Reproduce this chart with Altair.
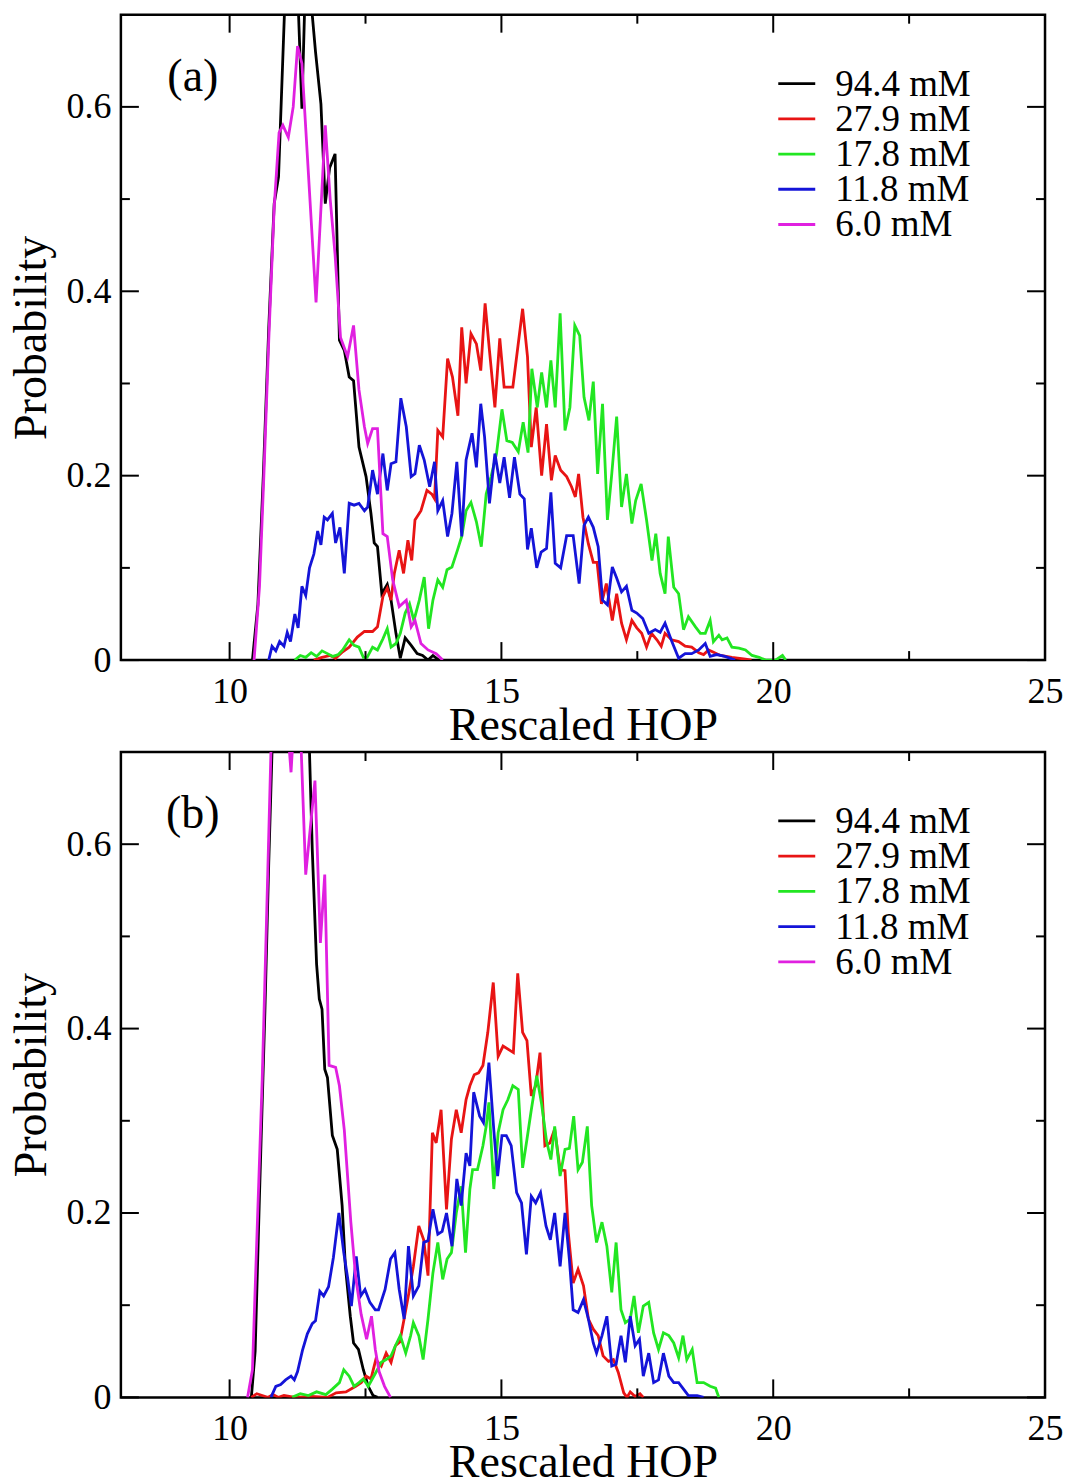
import altair as alt
import pandas as pd

LABELS = ["94.4 mM", "27.9 mM", "17.8 mM", "11.8 mM", "6.0 mM"]
COLORS = ["#000000", "#e81414", "#22e622", "#1414d8", "#e020e0"]
X_MAJOR = [10, 15, 20, 25]
X_MINOR = [12.5, 17.5, 22.5]
Y_MAJOR = [0, 0.2, 0.4, 0.6]
Y_MINOR = [0.1, 0.3, 0.5]
PANEL_TAGS = ["(a)", "(b)"]

# ---------------- panel (a) ----------------
A_BLACK = [(10.42, 0.0), (10.52, 0.06), (10.62, 0.2), (10.72, 0.36), (10.82, 0.495), (10.90, 0.524),
           (11.02, 0.72), (11.12, 0.82), (11.22, 0.78), (11.33, 0.598), (11.40, 0.75), (11.49, 0.72),
           (11.58, 0.66), (11.68, 0.603), (11.76, 0.495), (11.84, 0.534), (11.94, 0.549), (12.02, 0.347),
           (12.11, 0.336), (12.20, 0.307), (12.28, 0.303), (12.38, 0.231), (12.51, 0.199), (12.60, 0.159),
           (12.66, 0.127), (12.72, 0.123), (12.80, 0.072), (12.90, 0.082), (12.97, 0.065), (13.06, 0.029),
           (13.14, 0.002), (13.23, 0.024), (13.34, 0.016), (13.45, 0.007), (13.55, 0.005), (13.65, 0.0),
           (13.74, 0.005), (13.85, 0.0)]
A_RED = [(11.55, 0.0), (11.70, 0.003), (11.85, 0.005), (11.95, 0.002), (12.08, 0.009), (12.20, 0.014),
         (12.35, 0.025), (12.48, 0.031), (12.63, 0.031), (12.72, 0.036), (12.82, 0.069), (12.90, 0.078),
         (12.97, 0.065), (13.03, 0.094), (13.12, 0.119), (13.20, 0.094), (13.28, 0.13), (13.35, 0.108),
         (13.41, 0.152), (13.52, 0.162), (13.63, 0.184), (13.72, 0.18), (13.77, 0.175), (13.83, 0.249),
         (13.92, 0.242), (14.01, 0.327), (14.10, 0.307), (14.20, 0.265), (14.27, 0.361), (14.35, 0.3),
         (14.44, 0.354), (14.54, 0.343), (14.62, 0.314), (14.70, 0.387), (14.78, 0.336), (14.88, 0.274),
         (14.97, 0.349), (15.05, 0.296), (15.21, 0.296), (15.39, 0.381), (15.48, 0.329), (15.55, 0.231),
         (15.64, 0.274), (15.74, 0.2), (15.83, 0.256), (15.92, 0.195), (15.99, 0.222), (16.09, 0.206),
         (16.20, 0.199), (16.29, 0.188), (16.36, 0.177), (16.42, 0.202), (16.50, 0.155), (16.60, 0.126),
         (16.69, 0.106), (16.76, 0.106), (16.84, 0.061), (16.93, 0.083), (17.04, 0.043), (17.12, 0.072),
         (17.21, 0.04), (17.30, 0.022), (17.40, 0.043), (17.49, 0.035), (17.58, 0.029), (17.67, 0.014),
         (17.76, 0.029), (17.86, 0.022), (17.94, 0.015), (18.01, 0.029), (18.13, 0.022), (18.26, 0.02),
         (18.38, 0.015), (18.50, 0.014), (18.63, 0.008), (18.72, 0.006), (18.81, 0.011), (19.03, 0.005),
         (19.24, 0.003), (19.49, 0.001), (19.60, 0.0)]
A_GREEN = [(11.20, 0.0), (11.30, 0.005), (11.40, 0.003), (11.50, 0.008), (11.60, 0.004), (11.70, 0.01),
           (11.80, 0.007), (11.90, 0.004), (12.00, 0.006), (12.08, 0.011), (12.20, 0.022), (12.29, 0.016),
           (12.38, 0.014), (12.46, 0.003), (12.53, 0.003), (12.63, 0.014), (12.72, 0.011), (12.82, 0.023),
           (12.90, 0.034), (12.97, 0.014), (13.06, 0.018), (13.14, 0.029), (13.23, 0.051), (13.31, 0.061),
           (13.39, 0.043), (13.49, 0.065), (13.58, 0.09), (13.66, 0.034), (13.74, 0.065), (13.83, 0.087),
           (13.92, 0.079), (14.00, 0.098), (14.09, 0.101), (14.19, 0.119), (14.27, 0.134), (14.35, 0.162),
           (14.44, 0.171), (14.54, 0.15), (14.63, 0.123), (14.72, 0.18), (14.81, 0.199), (14.91, 0.224),
           (15.01, 0.272), (15.10, 0.238), (15.20, 0.236), (15.31, 0.226), (15.40, 0.258), (15.49, 0.225),
           (15.56, 0.316), (15.66, 0.274), (15.74, 0.312), (15.83, 0.274), (15.91, 0.325), (15.99, 0.274),
           (16.08, 0.376), (16.17, 0.249), (16.26, 0.274), (16.35, 0.363), (16.44, 0.352), (16.52, 0.285),
           (16.61, 0.26), (16.69, 0.302), (16.77, 0.202), (16.86, 0.278), (16.95, 0.152), (17.03, 0.202),
           (17.12, 0.264), (17.21, 0.166), (17.30, 0.202), (17.40, 0.148), (17.47, 0.173), (17.57, 0.191),
           (17.67, 0.152), (17.77, 0.108), (17.84, 0.137), (17.92, 0.094), (18.01, 0.072), (18.07, 0.134),
           (18.17, 0.079), (18.26, 0.072), (18.35, 0.033), (18.44, 0.047), (18.57, 0.036), (18.66, 0.029),
           (18.75, 0.029), (18.84, 0.043), (18.90, 0.02), (19.00, 0.027), (19.06, 0.022), (19.15, 0.024),
           (19.24, 0.014), (19.37, 0.013), (19.49, 0.011), (19.61, 0.005), (19.74, 0.003), (19.86, 0.0),
           (20.04, 0.0), (20.17, 0.005), (20.23, 0.0)]
A_BLUE = [(10.72, 0.0), (10.78, 0.015), (10.85, 0.01), (10.92, 0.02), (11.00, 0.015), (11.06, 0.03),
          (11.12, 0.02), (11.20, 0.05), (11.26, 0.035), (11.33, 0.08), (11.40, 0.07), (11.47, 0.1),
          (11.55, 0.115), (11.62, 0.14), (11.68, 0.125), (11.74, 0.155), (11.80, 0.152), (11.89, 0.159),
          (11.95, 0.127), (12.03, 0.144), (12.11, 0.094), (12.20, 0.17), (12.29, 0.168), (12.38, 0.17),
          (12.48, 0.162), (12.54, 0.166), (12.63, 0.206), (12.72, 0.18), (12.82, 0.224), (12.90, 0.184),
          (12.97, 0.213), (13.06, 0.215), (13.15, 0.284), (13.25, 0.253), (13.34, 0.199), (13.41, 0.202),
          (13.49, 0.233), (13.58, 0.217), (13.68, 0.188), (13.77, 0.215), (13.83, 0.162), (13.92, 0.173),
          (14.01, 0.134), (14.09, 0.159), (14.18, 0.215), (14.27, 0.134), (14.35, 0.217), (14.46, 0.246),
          (14.54, 0.209), (14.62, 0.278), (14.69, 0.242), (14.78, 0.17), (14.88, 0.224), (14.97, 0.192),
          (15.05, 0.22), (15.15, 0.176), (15.24, 0.22), (15.34, 0.18), (15.42, 0.175), (15.48, 0.12),
          (15.55, 0.143), (15.65, 0.1), (15.73, 0.117), (15.83, 0.121), (15.91, 0.182), (15.99, 0.105),
          (16.09, 0.1), (16.20, 0.135), (16.32, 0.135), (16.43, 0.083), (16.52, 0.146), (16.60, 0.155),
          (16.69, 0.144), (16.78, 0.123), (16.86, 0.065), (16.95, 0.06), (17.04, 0.101), (17.12, 0.089),
          (17.21, 0.074), (17.30, 0.08), (17.40, 0.054), (17.49, 0.051), (17.60, 0.045), (17.71, 0.029),
          (17.83, 0.033), (17.92, 0.03), (18.01, 0.04), (18.13, 0.021), (18.26, 0.002), (18.38, 0.007),
          (18.50, 0.007), (18.63, 0.011), (18.75, 0.018), (18.84, 0.004), (18.96, 0.006), (19.11, 0.004),
          (19.30, 0.0)]
A_MAGENTA = [(10.45, 0.0), (10.55, 0.08), (10.63, 0.2), (10.72, 0.347), (10.82, 0.491), (10.91, 0.572),
             (10.98, 0.58), (11.08, 0.567), (11.17, 0.60), (11.25, 0.666), (11.33, 0.647), (11.59, 0.388),
             (11.76, 0.58), (11.85, 0.50), (11.94, 0.44), (12.04, 0.35), (12.17, 0.329), (12.28, 0.363),
             (12.38, 0.293), (12.48, 0.253), (12.54, 0.235), (12.63, 0.251), (12.72, 0.251), (12.82, 0.137),
             (12.90, 0.134), (13.00, 0.087), (13.12, 0.058), (13.25, 0.065), (13.34, 0.036), (13.41, 0.043),
             (13.52, 0.018), (13.65, 0.011), (13.80, 0.007), (13.92, 0.0)]

# ---------------- panel (b) ----------------
B_BLACK = [(10.40, 0.0), (10.47, 0.05), (10.55, 0.22), (10.65, 0.42), (10.72, 0.58), (10.80, 0.74),
           (10.90, 0.9), (11.10, 0.95), (11.30, 0.85), (11.45, 0.74), (11.52, 0.595), (11.60, 0.47),
           (11.65, 0.432), (11.70, 0.421), (11.75, 0.356), (11.80, 0.347), (11.89, 0.284), (11.98, 0.269),
           (12.07, 0.208), (12.13, 0.142), (12.22, 0.088), (12.28, 0.059), (12.37, 0.052), (12.46, 0.03),
           (12.55, 0.012), (12.64, 0.002), (12.72, 0.0)]
B_RED = [(10.40, 0.0), (10.50, 0.004), (10.60, 0.002), (10.70, 0.0), (10.80, 0.003), (10.90, 0.0),
         (11.00, 0.002), (11.20, 0.0), (11.50, 0.001), (11.80, 0.0), (11.96, 0.005), (12.14, 0.006),
         (12.32, 0.012), (12.42, 0.016), (12.51, 0.023), (12.60, 0.02), (12.69, 0.041), (12.79, 0.034),
         (12.88, 0.048), (12.97, 0.038), (13.05, 0.056), (13.13, 0.06), (13.21, 0.085), (13.30, 0.114),
         (13.38, 0.142), (13.48, 0.186), (13.57, 0.171), (13.65, 0.132), (13.73, 0.287), (13.80, 0.276),
         (13.89, 0.312), (13.99, 0.204), (14.08, 0.28), (14.17, 0.312), (14.26, 0.287), (14.35, 0.323),
         (14.42, 0.338), (14.50, 0.35), (14.58, 0.352), (14.66, 0.36), (14.75, 0.396), (14.85, 0.45),
         (14.94, 0.37), (15.03, 0.381), (15.22, 0.374), (15.30, 0.46), (15.39, 0.396), (15.47, 0.387),
         (15.55, 0.327), (15.63, 0.338), (15.71, 0.374), (15.80, 0.273), (15.89, 0.276), (15.98, 0.291),
         (16.08, 0.247), (16.17, 0.246), (16.23, 0.179), (16.32, 0.124), (16.41, 0.139), (16.51, 0.121),
         (16.60, 0.085), (16.69, 0.074), (16.78, 0.067), (16.87, 0.045), (16.97, 0.039), (17.06, 0.041),
         (17.15, 0.027), (17.25, 0.005), (17.31, 0.0), (17.37, 0.006), (17.46, 0.001), (17.55, 0.004),
         (17.61, 0.0)]
B_GREEN = [(11.15, 0.0), (11.30, 0.004), (11.45, 0.002), (11.60, 0.006), (11.77, 0.003), (11.89, 0.009),
           (12.02, 0.016), (12.10, 0.03), (12.20, 0.023), (12.29, 0.012), (12.38, 0.016), (12.46, 0.02),
           (12.55, 0.012), (12.69, 0.027), (12.79, 0.038), (12.88, 0.041), (12.97, 0.045), (13.05, 0.056),
           (13.14, 0.067), (13.24, 0.048), (13.33, 0.067), (13.38, 0.081), (13.48, 0.067), (13.56, 0.041),
           (13.65, 0.085), (13.74, 0.135), (13.83, 0.168), (13.92, 0.128), (14.00, 0.15), (14.08, 0.157),
           (14.17, 0.2), (14.26, 0.229), (14.34, 0.157), (14.42, 0.226), (14.47, 0.247), (14.56, 0.247),
           (14.66, 0.273), (14.72, 0.294), (14.77, 0.32), (14.86, 0.226), (14.94, 0.287), (15.03, 0.312),
           (15.12, 0.323), (15.21, 0.338), (15.31, 0.334), (15.39, 0.249), (15.47, 0.28), (15.55, 0.312),
           (15.65, 0.349), (15.74, 0.318), (15.83, 0.278), (15.91, 0.258), (15.98, 0.294), (16.08, 0.24),
           (16.17, 0.269), (16.25, 0.27), (16.33, 0.305), (16.41, 0.247), (16.49, 0.255), (16.58, 0.294),
           (16.66, 0.208), (16.75, 0.168), (16.85, 0.19), (16.94, 0.164), (17.03, 0.114), (17.11, 0.168),
           (17.20, 0.095), (17.28, 0.081), (17.37, 0.085), (17.44, 0.11), (17.52, 0.07), (17.61, 0.099),
           (17.71, 0.103), (17.80, 0.07), (17.89, 0.052), (17.98, 0.07), (18.08, 0.067), (18.17, 0.059),
           (18.26, 0.043), (18.34, 0.067), (18.41, 0.041), (18.51, 0.052), (18.60, 0.016), (18.72, 0.016),
           (18.84, 0.012), (18.94, 0.01), (19.00, 0.0)]
B_BLUE = [(10.76, 0.0), (10.85, 0.012), (10.94, 0.014), (11.03, 0.019), (11.13, 0.023), (11.19, 0.019),
          (11.25, 0.028), (11.34, 0.051), (11.43, 0.069), (11.52, 0.08), (11.58, 0.083), (11.66, 0.115),
          (11.73, 0.11), (11.82, 0.12), (11.91, 0.152), (12.01, 0.2), (12.10, 0.157), (12.17, 0.13),
          (12.24, 0.099), (12.33, 0.153), (12.41, 0.11), (12.49, 0.117), (12.58, 0.103), (12.68, 0.095),
          (12.74, 0.095), (12.86, 0.117), (12.96, 0.15), (13.04, 0.157), (13.12, 0.117), (13.21, 0.085),
          (13.29, 0.164), (13.38, 0.11), (13.48, 0.121), (13.57, 0.168), (13.65, 0.17), (13.74, 0.204),
          (13.83, 0.177), (13.91, 0.18), (13.99, 0.2), (14.09, 0.164), (14.18, 0.237), (14.26, 0.208),
          (14.35, 0.265), (14.42, 0.251), (14.49, 0.331), (14.60, 0.305), (14.67, 0.298), (14.77, 0.363),
          (14.86, 0.29), (14.93, 0.24), (15.01, 0.284), (15.09, 0.284), (15.18, 0.273), (15.28, 0.222),
          (15.37, 0.211), (15.46, 0.155), (15.55, 0.218), (15.63, 0.211), (15.72, 0.222), (15.82, 0.186),
          (15.90, 0.171), (15.98, 0.2), (16.08, 0.142), (16.17, 0.2), (16.25, 0.15), (16.32, 0.095),
          (16.41, 0.092), (16.51, 0.106), (16.60, 0.085), (16.69, 0.059), (16.75, 0.048), (16.85, 0.067),
          (16.94, 0.088), (17.03, 0.034), (17.11, 0.036), (17.20, 0.067), (17.28, 0.038), (17.37, 0.088),
          (17.46, 0.056), (17.54, 0.063), (17.61, 0.023), (17.71, 0.048), (17.80, 0.016), (17.89, 0.019),
          (17.98, 0.048), (18.08, 0.023), (18.17, 0.016), (18.26, 0.016), (18.35, 0.009), (18.44, 0.002),
          (18.60, 0.002), (18.72, 0.0)]
B_MAGENTA = [(10.33, 0.0), (10.42, 0.03), (10.50, 0.17), (10.60, 0.345), (10.68, 0.52), (10.76, 0.70),
             (10.85, 0.82), (10.95, 0.8), (11.05, 0.74), (11.13, 0.678), (11.20, 0.75), (11.30, 0.73),
             (11.40, 0.567), (11.57, 0.669), (11.67, 0.493), (11.75, 0.567), (11.83, 0.36), (11.95, 0.358),
             (12.02, 0.338), (12.11, 0.29), (12.17, 0.24), (12.23, 0.19), (12.32, 0.13), (12.42, 0.09),
             (12.52, 0.063), (12.61, 0.088), (12.68, 0.052), (12.75, 0.028), (12.85, 0.012), (12.96, 0.0)]

PANELS = [[A_BLACK, A_RED, A_GREEN, A_BLUE, A_MAGENTA],
          [B_BLACK, B_RED, B_GREEN, B_BLUE, B_MAGENTA]]

W, H = 925, 646
FONT = "Liberation Serif"
MAJ, MIN = 18, 9

xs = alt.Scale(domain=[8, 25], nice=False, zero=False)
ys = alt.Scale(domain=[0, 0.7], nice=False)
cscale = alt.Scale(domain=LABELS, range=COLORS)
common_axis = dict(ticks=False, tickSize=0, domain=False, grid=False, labelFont=FONT, titleFont=FONT,
                   labelFontSize=36, titleFontSize=46, labelColor="black", titleColor="black",
                   titleFontWeight="normal", labelFlush=False)
xaxis = alt.Axis(title="Rescaled HOP", values=X_MAJOR, format="d", labelBaseline="alphabetic",
                 labelPadding=42, titleBaseline="alphabetic", titleY=79, titleX=W / 2, **common_axis)
yaxis = alt.Axis(title="Probability", values=Y_MAJOR, labelPadding=10,
                 labelExpr="datum.value == 0 ? '0' : format(datum.value, '.1f')",
                 titleBaseline="alphabetic", titleX=-75, titleY=H / 2, titleAngle=270, **common_axis)


def X(field):
    return alt.X(field, type="quantitative", scale=xs, axis=xaxis)


def Y(field):
    return alt.Y(field, type="quantitative", scale=ys, axis=yaxis)


def make_panel(series_list, tag):
    layers = []
    for label, pts in zip(LABELS, series_list):
        df = pd.DataFrame({"x": [p[0] for p in pts], "y": [p[1] for p in pts], "series": label})
        layers.append(
            alt.Chart(df).mark_line(clip=True, strokeWidth=2.8).encode(
                x=X("x"), y=Y("y"),
                color=alt.Color("series:N", scale=cscale, legend=None),
            )
        )
    xmaj = pd.DataFrame({"x": X_MAJOR})
    xmin = pd.DataFrame({"x": X_MINOR})
    ymaj = pd.DataFrame({"y": Y_MAJOR})
    ymin = pd.DataFrame({"y": Y_MINOR})
    rule = dict(color="black", strokeWidth=2)
    for dfx, ln in ((xmaj, MAJ), (xmin, MIN)):
        layers.append(alt.Chart(dfx).mark_rule(**rule).encode(x=X("x"), y=alt.value(H), y2=alt.value(H - ln)))
        layers.append(alt.Chart(dfx).mark_rule(**rule).encode(x=X("x"), y=alt.value(0), y2=alt.value(ln)))
    for dfy, ln in ((ymaj, MAJ), (ymin, MIN)):
        layers.append(alt.Chart(dfy).mark_rule(**rule).encode(y=Y("y"), x=alt.value(0), x2=alt.value(ln)))
        layers.append(alt.Chart(dfy).mark_rule(**rule).encode(y=Y("y"), x=alt.value(W), x2=alt.value(W - ln)))
    layers.append(
        alt.Chart(pd.DataFrame({"t": [tag]})).mark_text(font=FONT, fontSize=46, align="center",
                                                        baseline="middle", color="black").encode(
            text="t:N", x=alt.value(72), y=alt.value(62))
    )
    data_layer = alt.layer(*layers)

    # legend drawn as marks: one row per series, rows placed by a point scale
    leg_df = pd.DataFrame({"series": LABELS})
    row = alt.Y("series:N", scale=alt.Scale(type="point", domain=LABELS, range=[69, 210], padding=0),
                axis=None)
    leg_lines = alt.Chart(leg_df).mark_rule(strokeWidth=2.8).encode(
        y=row, x=alt.value(658), x2=alt.value(695),
        color=alt.Color("series:N", scale=cscale, legend=None))
    leg_text = alt.Chart(leg_df).mark_text(font=FONT, fontSize=37, align="left", baseline="middle",
                                           color="black", dy=1).encode(
        y=row, x=alt.value(715), text="series:N")
    legend_layer = alt.layer(leg_lines, leg_text)

    return alt.layer(data_layer, legend_layer).resolve_scale(y="independent").properties(width=W, height=H)


chart = alt.vconcat(
    make_panel(PANELS[0], PANEL_TAGS[0]),
    make_panel(PANELS[1], PANEL_TAGS[1]),
    spacing=92,
    bounds="flush",
).resolve_scale(color="independent").properties(
    padding={"left": 7, "top": 11, "right": 5, "bottom": 0},
    background="white",
).configure_view(stroke="black", strokeWidth=2.5)

chart.save("out.html", embed_options={"renderer": "svg", "actions": False})
